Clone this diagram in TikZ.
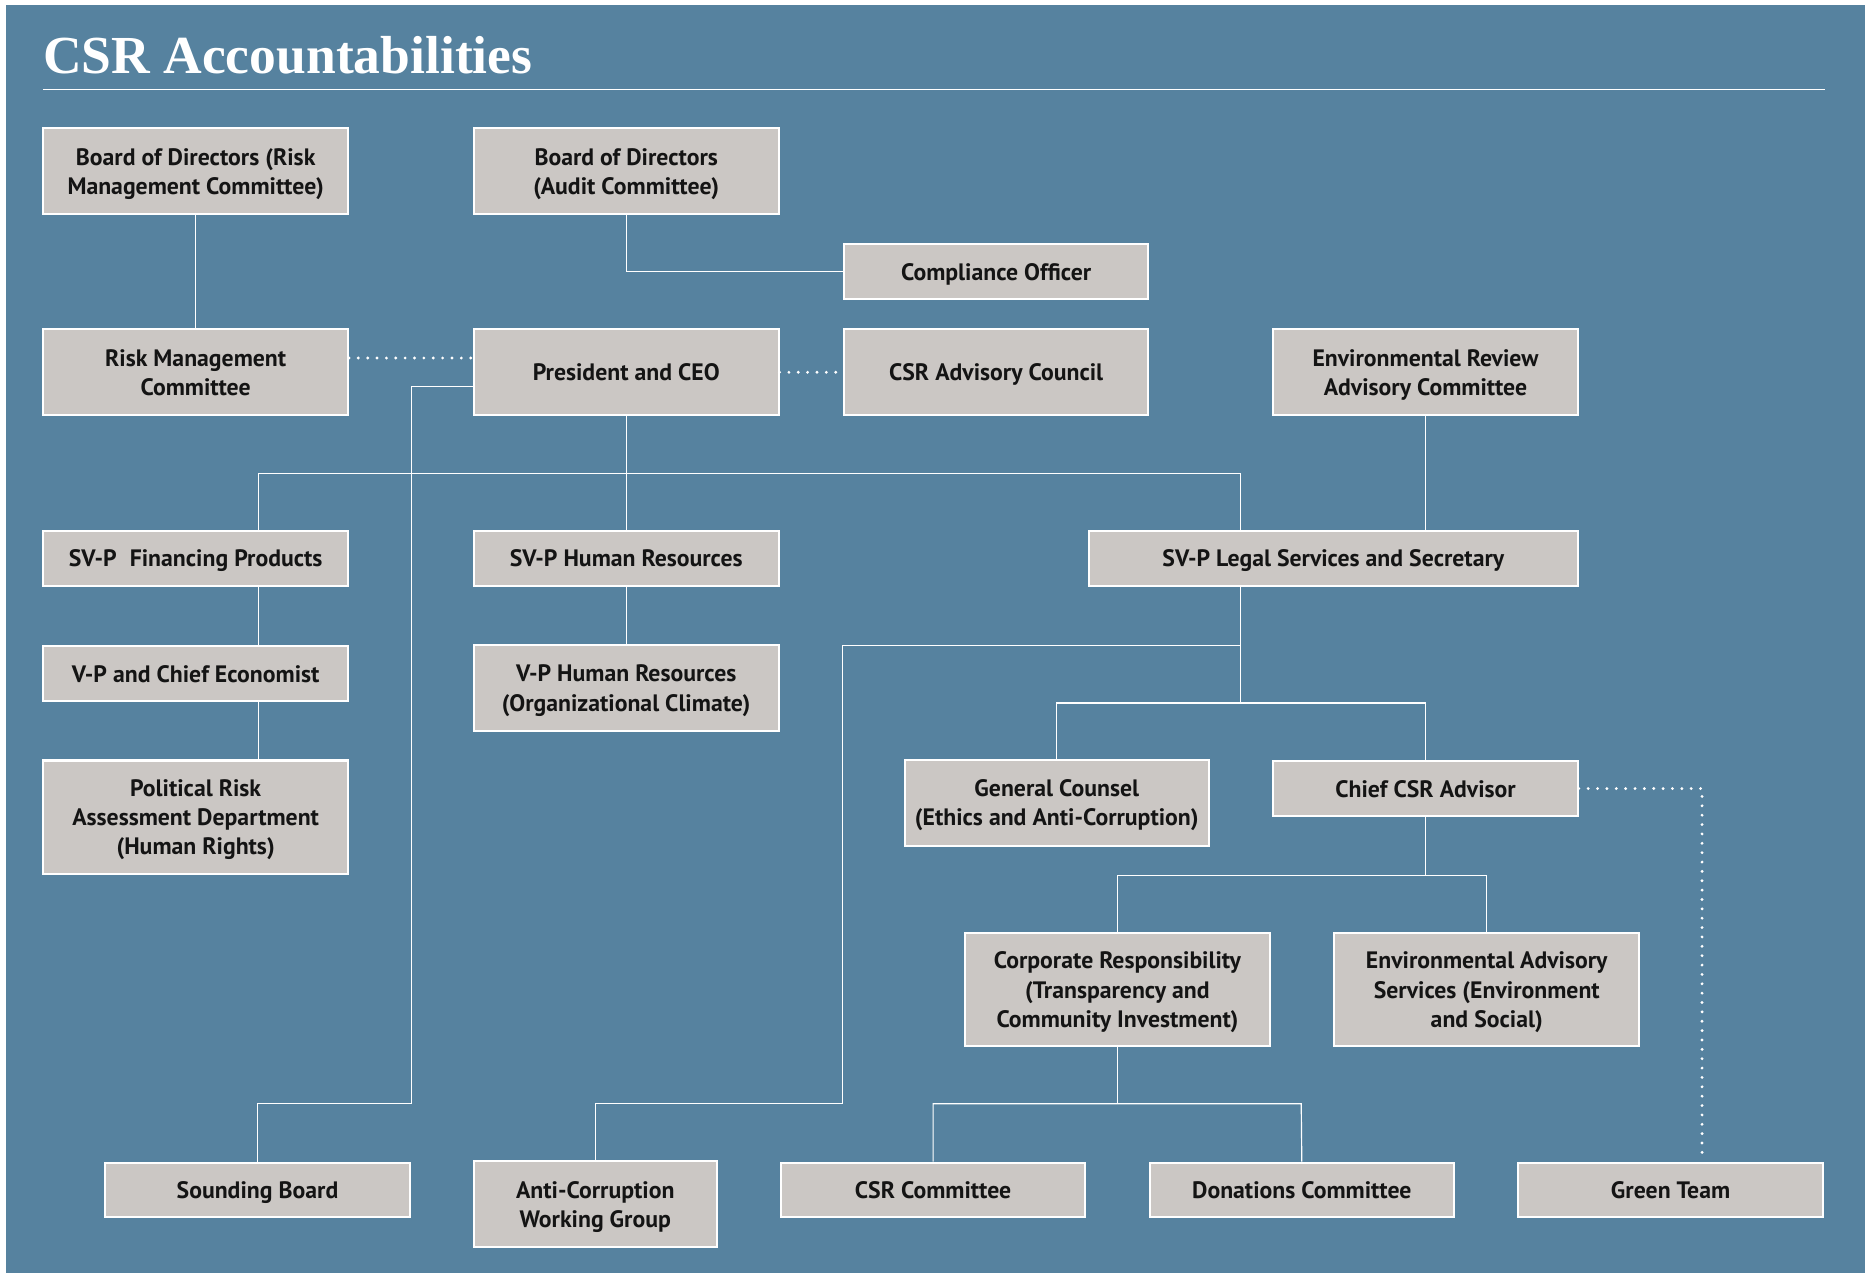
\documentclass[tikz,border=0pt]{standalone}
\usepackage{fontspec}
\setmainfont{PT Sans}
\newfontfamily\titlefont{Liberation Serif}
\definecolor{bgblue}{RGB}{86,130,159}
\definecolor{boxgray}{RGB}{203,199,196}
\definecolor{ink}{RGB}{20,20,20}

\begin{document}
\begin{tikzpicture}[x=0.025cm, y=-0.025cm,
        unit/.style={draw=white, line width=1.2pt, fill=boxgray, text=ink, align=center, inner sep=2pt, text depth=0pt,
            font=\fontsize{14.2}{17.4}\selectfont\bfseries, minimum width=6.4cm, minimum height=1.8cm},
        oneline/.style={minimum height=1.15cm},
        threeline/.style={minimum height=2.38cm},
        link/.style={draw=white, line width=0.7pt},
        dots/.style={draw=white, line width=1.9pt, line cap=round, dash pattern=on 0pt off 5.6pt},]

        % Frame and background
        \useasboundingbox (0,0) rectangle (1568,1070);
        \fill[white] (0,0) rectangle (1568,1070);
        \fill[bgblue] (5,4) rectangle (1568,1070);

        % Title
        \node[anchor=base west, inner sep=0pt, text=white, font=\titlefont\fontsize{32}{36}\selectfont\bfseries] (title) at (36,62) {CSR Accountabilities};
        \draw[link] (36,75) -- (1534,75);

        % Define the coordinates of the junctions
        \coordinate (busL) at (217,398);
        \coordinate (busR) at (1043,398);
        \coordinate (busG) at (1043,591);
        \coordinate (acA) at (1043,543);
        \coordinate (acB) at (708,928);
        \coordinate (sbBend) at (346,928);
        \coordinate (busC) at (1250,736);
        \coordinate (busD) at (1094,928);
        \coordinate (gtBend) at (1431,663);

        % Draw the boxes
        \node[unit] (bdr) at (164.5,144) {Board of Directors (Risk\\Management Committee)};
        \node[unit] (bda) at (526.5,144) {Board of Directors\\(Audit Committee)};
        \node[unit, oneline] (co) at (837.5,228.5) {Compliance Officer};

        \node[unit] (rmc) at (164.5,313) {Risk Management\\Committee};
        \node[unit] (pceo) at (526.5,313) {President and CEO};
        \node[unit] (csrac) at (837.5,313) {CSR Advisory Council};
        \node[unit] (erac) at (1198.5,313) {Environmental Review\\Advisory Committee};

        \node[unit, oneline] (svpf) at (164.5,469.5) {SV-P\hspace{0.3em} Financing Products};
        \node[unit, oneline] (svphr) at (526.5,469.5) {SV-P Human Resources};
        \node[unit, oneline, minimum width=10.27cm] (svpl) at (1121,469.5) {SV-P Legal Services and Secretary};

        \node[unit, oneline] (vpce) at (164.5,566.5) {V-P and Chief Economist};
        \node[unit] (vphr) at (526.5,578.5) {V-P Human Resources\\(Organizational Climate)};

        \node[unit, threeline] (prad) at (164.5,687) {Political Risk\\Assessment Department\\(Human Rights)};
        \node[unit] (gc) at (888.5,675) {General Counsel\\(Ethics and Anti-Corruption)};
        \node[unit, oneline] (ccsr) at (1198.5,663) {Chief CSR Advisor};

        \node[unit, threeline] (cr) at (939.5,832) {Corporate Responsibility\\(Transparency and\\Community Investment)};
        \node[unit, threeline] (eas) at (1250,832) {Environmental Advisory\\Services (Environment\\and Social)};

        \node[unit, oneline] (sb) at (216.5,1000.5) {Sounding Board};
        \node[unit, minimum width=5.1cm] (acwg) at (500.5,1012.5) {Anti-Corruption\\Working Group};
        \node[unit, oneline] (csrc) at (784.5,1000.5) {CSR Committee};
        \node[unit, oneline] (dc) at (1094.5,1000.5) {Donations Committee};
        \node[unit, oneline] (gt) at (1404.5,1000.5) {Green Team};

        % Draw the reporting lines
        \draw[link] (bdr) -- (rmc);
        \draw[link] (bda) |- (co);
        \draw[link] (pceo) -- (pceo |- busL);
        \draw[link] (busL) -- (busR);
        \draw[link] (busL) -- (busL |- svpf.north);
        \draw[link] (pceo |- busL) -- (svphr);
        \draw[link] (busR) -- (busR |- svpl.north);
        \draw[link] ([yshift=-0.3cm]pceo.west) -| (sbBend) -| (sb);
        \draw[link] (svpf.south -| busL) -- (vpce.north -| busL);
        \draw[link] (vpce.south -| busL) -- (prad.north -| busL);
        \draw[link] (svphr) -- (vphr);
        \draw[link] (erac) -- (erac |- svpl.north);
        \draw[link] (svpl.south -| busR) -- (busG);
        \draw[link] (gc.north) |- (busG) -| (ccsr.north);
        \draw[link] (acA) -| (acB) -| (acwg);
        \draw[link] (ccsr) -- (ccsr |- busC);
        \draw[link] (cr.north) |- (busC) -- (eas.north);
        \draw[link] (cr) -- (cr |- busD);
        \draw[link] (csrc.north) |- (busD) -- (dc.north);

        % Dotted advisory lines
        \draw[dots] ([yshift=0.3cm]rmc.east) -- ([yshift=0.3cm]pceo.west);
        \draw[dots] (pceo) -- (csrac);
        \draw[dots] (ccsr.east) -- (gtBend) -- (gt.north -| gtBend);

    \end{tikzpicture}
\end{document}
